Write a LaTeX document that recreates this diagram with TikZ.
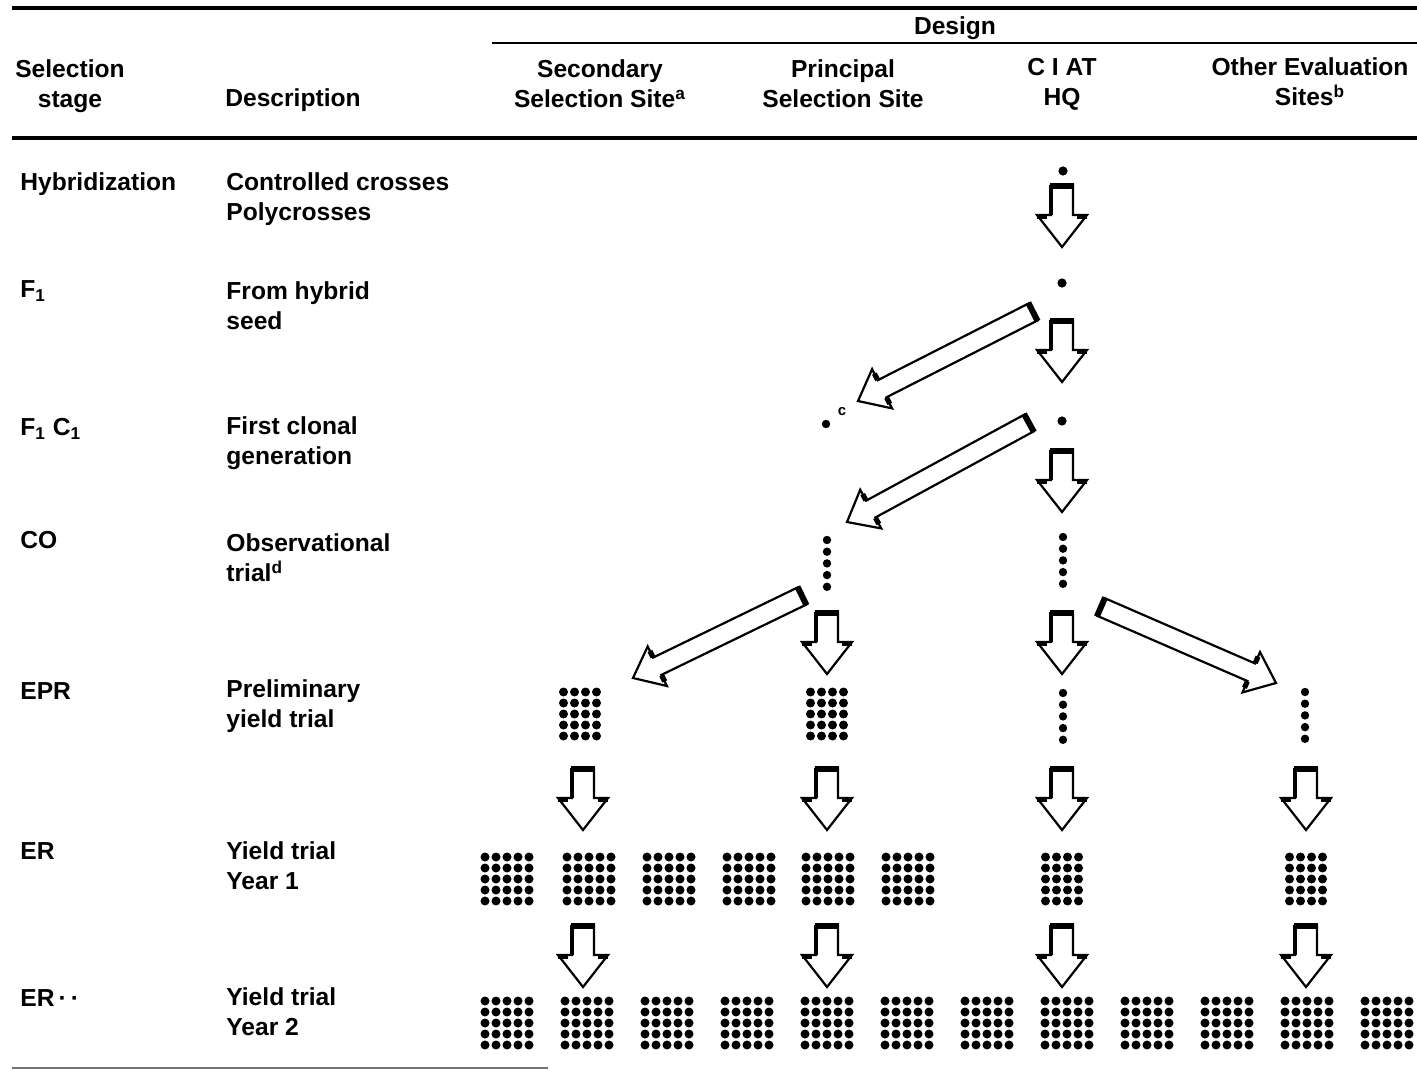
\documentclass[tikz,border=0pt]{standalone}
\usepackage{fontspec}
\setmainfont{Liberation Sans}
\usetikzlibrary{calc}
\newcommand{\dotgrid}[4]{%
  \foreach \ii in {1,...,#1}{\foreach \jj in {1,...,#2}{%
    \fill ({#3+(\ii-(#1+1)/2)*11},{#4+(\jj-(#2+1)/2)*11}) circle[radius=2.25pt];}}}
\newcommand{\dotcol}[2]{%
  \foreach \jj in {0,...,4}{\fill ({#1},{#2+\jj*11.7}) circle[radius=2.1pt];}}
\newcommand{\diagarr}[5]{%
  \coordinate (#1t) at (#2,#3);
  \coordinate (#1p) at (#4,#5);
  \coordinate (#1n) at ($(#1p)!13.5pt!(#1t)$);
  \draw[arrline] ($(#1t)!4.8pt!90:(#1p)$) -- ($(#1n)!4.8pt!90:(#1p)$) -- ($(#1n)!11pt!90:(#1p)$) -- (#1p)
     -- ($(#1n)!11pt!-90:(#1p)$) -- ($(#1n)!4.8pt!-90:(#1p)$) -- ($(#1t)!4.8pt!-90:(#1p)$) -- cycle;
  \draw[line width=3pt] ($(#1t)!5.2pt!90:(#1p)$) -- ($(#1t)!5.2pt!-90:(#1p)$);
  \draw[line width=2.6pt] ($(#1n)!5pt!90:(#1p)$) -- ($(#1n)!8.5pt!90:(#1p)$);
  \draw[line width=2.6pt] ($(#1n)!5pt!-90:(#1p)$) -- ($(#1n)!8.5pt!-90:(#1p)$);
}
\tikzset{
  lbl/.style={font=\bfseries\fontsize{12.3}{15}\selectfont, inner sep=0pt, align=left, anchor=west},
  hdr/.style={font=\bfseries\fontsize{12.3}{15}\selectfont, inner sep=0pt, align=center},
  thickrule/.style={line width=1.6pt},
  thinrule/.style={line width=0.8pt},
  arrline/.style={draw=black, fill=white, line width=1.1pt, line join=miter},
  dnarr/.pic={
    \draw[arrline] (-11,0) -- (11,0) -- (11,30) -- (25,30) -- (0,62) -- (-25,30) -- (-11,30) -- cycle;
    \draw[line width=2.8pt] (-12,1) -- (12,1);
    \draw[line width=2.4pt] (-25,32) -- (-15,32);
    \draw[line width=2.4pt] (15,32) -- (25,32);
    \draw[line width=1.8pt] (-11,0) -- (-11,30);
  }
}
\begin{document}
\begin{tikzpicture}[x=0.5pt,y=-0.5pt]
\useasboundingbox (0,0) rectangle (1417,1074);
% rules
\coordinate (r1a) at (12,8);   \coordinate (r1b) at (1417,8);
\coordinate (r2a) at (492,43); \coordinate (r2b) at (1417,43);
\coordinate (r3a) at (12,138); \coordinate (r3b) at (1417,138);
\coordinate (r4a) at (12,1068); \coordinate (r4b) at (548,1068);
\draw[thickrule] (r1a) -- (r1b);
\draw[thinrule] (r2a) -- (r2b);
\draw[thickrule] (r3a) -- (r3b);
\draw[line width=0.6pt, black!55] (r4a) -- (r4b);
% header
\node[hdr] (hdesign) at (955,28) {Design};
\node[hdr] (hstage) at (70,86) {Selection\\stage};
\node[hdr] (hdesc) at (293,100) {Description};
\node[hdr] (hsec) at (600,84) {Secondary\\Selection Site\textsuperscript{a}};
\node[hdr] (hpri) at (843,84) {Principal\\Selection Site};
\node[hdr] (hciat) at (1062,84) {C I AT\\HQ};
\node[hdr] (hoth) at (1310,82) {Other Evaluation\\Sites\textsuperscript{b}};
% row labels
\node[lbl] (s1) at (20,184) {Hybridization};
\node[lbl] (s2) at (20,291) {F\textsubscript{1}};
\node[lbl] (s3) at (20,429) {F\textsubscript{1} C\textsubscript{1}};
\node[lbl] (s4) at (20,540) {CO};
\node[lbl] (s5) at (20,691) {EPR};
\node[lbl] (s6) at (20,851) {ER};
\node[lbl] (s7) at (20,998) {ER\,·\,·};
\node[lbl] (d1) at (226,199) {Controlled crosses\\Polycrosses};
\node[lbl] (d2) at (226,306) {From hybrid\\seed};
\node[lbl] (d3) at (226,443) {First clonal\\generation};
\node[lbl] (d4) at (226,558) {Observational\\trial\textsuperscript{d}};
\node[lbl] (d5) at (226,706) {Preliminary\\yield trial};
\node[lbl] (d6) at (226,866) {Yield trial\\Year 1};
\node[lbl] (d7) at (226,1012) {Yield trial\\Year 2};
% single dots
\fill (1063,171) circle[radius=2.3pt];
\fill (1062,283) circle[radius=2.3pt];
\fill (1062,421) circle[radius=2.3pt];
\fill (826,424) circle[radius=2.1pt];
\node[font=\bfseries\fontsize{7.5}{8}\selectfont, inner sep=0pt] (cnote) at (842,412) {c};
% dot columns
\dotcol{827}{540}
\dotcol{1063}{537}
\dotcol{1063}{693}
\dotcol{1305}{692}
% grids
\dotgrid{4}{5}{580}{714}
\dotgrid{4}{5}{827}{714}
\foreach \gx in {507,589,669,749,828,908}{\dotgrid{5}{5}{\gx}{879}}
\dotgrid{4}{5}{1062}{879}
\dotgrid{4}{5}{1306}{879}
\foreach \k in {0,...,11}{\dotgrid{5}{5}{507+80*\k}{1023}}
% down arrows
\pic (a1) at (1062,185) {dnarr};
\pic (a2) at (1062,320) {dnarr};
\pic (a3) at (1062,450) {dnarr};
\pic (a4) at (1062,612) {dnarr};
\pic (a5) at (1062,768) {dnarr};
\pic (a6) at (1062,925) {dnarr};
\pic (b4) at (827,612) {dnarr};
\pic (b5) at (827,768) {dnarr};
\pic (b6) at (827,925) {dnarr};
\pic (c5) at (583,768) {dnarr};
\pic (c6) at (583,925) {dnarr};
\pic (e5) at (1306,768) {dnarr};
\pic (e6) at (1306,925) {dnarr};
% diagonal arrows
\diagarr{g1}{1033}{312}{858}{401}
\diagarr{g2}{1029}{423}{847}{522}
\diagarr{g3}{802}{596}{633}{678}
\diagarr{g4}{1101}{607}{1276}{683}
\end{tikzpicture}
\end{document}
